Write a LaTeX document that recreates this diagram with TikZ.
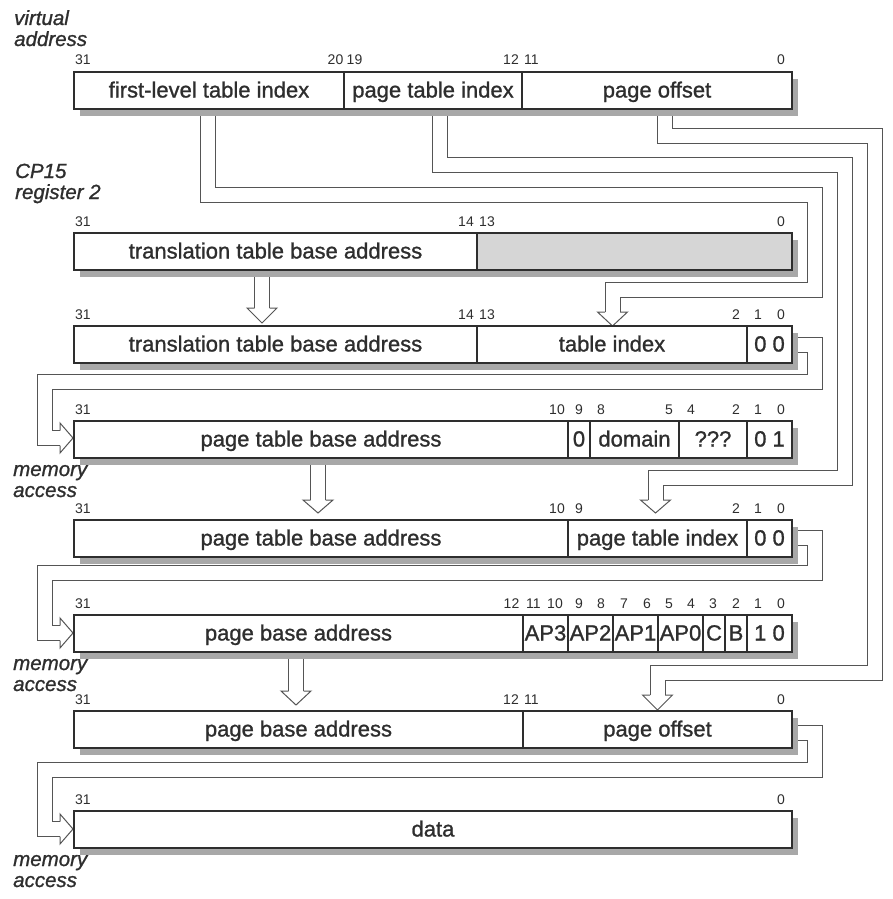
\documentclass[tikz,border=0pt]{standalone}
\usepackage{fontspec}
\setmainfont{Liberation Sans}
\newfontfamily\medfont{Liberation Sans}[FakeBold=1.1]
\usetikzlibrary{calc}
\definecolor{ink}{HTML}{2E2E2E}
\definecolor{wire}{HTML}{555555}
\definecolor{shadowc}{HTML}{A8A8A8}
\definecolor{grayfld}{HTML}{D6D6D6}
\tikzset{
  fld/.style={draw=ink, line width=1.4pt, fill=white, inner sep=0pt, minimum height=37pt,
    text height=16pt, text depth=2pt, font=\medfont\fontsize{22}{26}\selectfont, text=ink},
  bit/.style={font=\fontsize{14}{16}\selectfont, text=ink, anchor=base, inner sep=0pt},
  side/.style={font=\medfont\fontsize{20.5}{21}\selectfont\itshape, text=ink, anchor=base west,
    inner sep=0pt},
  strip/.style={draw=wire, line width=1pt, double=white, double distance=14pt, line join=miter},
  head/.style={draw=wire, line width=1pt, fill=white, line join=miter},
}
\newcommand\fieldbox[6][]{\node[fld,#1,minimum width={#4-#3}] (#2) at ({(#3+#4)/2},{#5+18.5}) {#6};}
\newcommand\bitrow[2]{\foreach \bx/\bs in {#2}{\node[bit] (b#1-\bs) at (\bx,#1) {\bs};}}
\newcommand\headdown[3]{\draw[head] ({#1-7.5},#2) -- ({#1-15},#2) -- (#1,#3) -- ({#1+15},#2) -- ({#1+7.5},#2);}
\newcommand\headright[3]{\draw[head] (#1,{#2-7.5}) -- (#1,{#2-15}) -- (#3,#2) -- (#1,{#2+15}) -- (#1,{#2+7.5});}
\newcommand\twolines[2]{\vbox{\baselineskip=21pt\lineskiplimit=-100pt\hbox{#1}\hbox{#2}}}
\begin{document}
\begin{tikzpicture}[x=1pt,y=-1pt]
\useasboundingbox (0,0) rectangle (893,899);

% ---------- wide connectors (drawn first, covered by shadows/boxes) ----------
\coordinate (s1) at (207.5,100);
\coordinate (s2) at (439.5,100);
\coordinate (s3) at (664.5,100);
\draw[strip] (s1) -- (207.5,194.5) -- (814.5,194.5) -- (814.5,289.5) -- (612.5,289.5) -- (612.5,312);
\draw[strip] (s2) -- (439.5,164.5) -- (844.5,164.5) -- (844.5,477.5) -- (655.5,477.5) -- (655.5,500);
\draw[strip] (s3) -- (664.5,135.5) -- (874.5,135.5) -- (874.5,672.5) -- (657.5,672.5) -- (657.5,695);
\coordinate (m1) at (785,344.5);
\coordinate (m2) at (785,537.5);
\coordinate (m3) at (785,732.5);
\draw[strip] (m1) -- (814.5,344.5) -- (814.5,381.5) -- (44.5,381.5) -- (44.5,438) -- (60,438);
\draw[strip] (m2) -- (814.5,537.5) -- (814.5,573) -- (44.5,573) -- (44.5,633) -- (60,633);
\draw[strip] (m3) -- (814.5,732.5) -- (814.5,769.5) -- (44.5,769.5) -- (44.5,829) -- (60,829);
\coordinate (c1) at (262,262);
\coordinate (c2) at (318,450);
\coordinate (c3) at (296,640);
\draw[strip] (c1) -- (262,308);
\draw[strip] (c2) -- (318,500);
\draw[strip] (c3) -- (296,691);

% ---------- shadows ----------
\foreach \t in {72,233,326,421,520,615,711,811}
  \fill[shadowc] (80,\t+7) rectangle (798,\t+44);

% ---------- heads ----------
\headdown{612.5}{312}{326}
\headdown{655.5}{500}{513}
\headdown{657.5}{695}{710}
\headdown{262}{308}{323}
\headdown{318}{500}{513}
\headdown{296}{691}{705}
\headright{60}{438}{73}
\headright{60}{633}{73}
\headright{60}{829}{73}

% ---------- fields ----------
\fieldbox{r1a}{74}{344}{72}{first-level table index}
\fieldbox{r1b}{344}{522}{72}{page table index}
\fieldbox{r1c}{522}{792}{72}{page offset}

\fieldbox{r2a}{74}{477}{233}{translation table base address}
\fieldbox[fill=grayfld]{r2b}{477}{792}{233}{}

\fieldbox{r3a}{74}{477}{326}{translation table base address}
\fieldbox{r3b}{477}{747}{326}{table index}
\fieldbox{r3c}{747}{792}{326}{0 0}

\fieldbox{r4a}{74}{568}{421}{page table base address}
\fieldbox{r4b}{568}{590}{421}{0}
\fieldbox{r4c}{590}{679}{421}{domain}
\fieldbox{r4d}{679}{747}{421}{???}
\fieldbox{r4e}{747}{792}{421}{0 1}

\fieldbox{r5a}{74}{568}{520}{page table base address}
\fieldbox{r5b}{568}{747}{520}{page table index}
\fieldbox{r5c}{747}{792}{520}{0 0}

\fieldbox{r6a}{74}{523}{615}{page base address}
\fieldbox{r6b}{523}{568}{615}{AP3}
\fieldbox{r6c}{568}{613}{615}{AP2}
\fieldbox{r6d}{613}{658}{615}{AP1}
\fieldbox{r6e}{658}{703}{615}{AP0}
\fieldbox{r6f}{703}{725}{615}{C}
\fieldbox{r6g}{725}{747}{615}{B}
\fieldbox{r6h}{747}{792}{615}{1 0}

\fieldbox{r7a}{74}{523}{711}{page base address}
\fieldbox{r7b}{523}{792}{711}{page offset}

\fieldbox{r8a}{74}{792}{811}{data}

% ---------- bit numbers ----------
\bitrow{65}{83/31,335.5/20,354.5/19,511/12,531.5/11,781/0}
\bitrow{226}{83/31,466/14,487/13,781/0}
\bitrow{319}{83/31,466/14,487/13,736/2,758/1,781/0}
\bitrow{414}{83/31,557/10,579/9,601/8,669/5,691/4,736/2,758/1,781/0}
\bitrow{513}{83/31,557/10,579/9,736/2,758/1,781/0}
\bitrow{608}{83/31,511.5/12,533.5/11,555/10,579/9,601/8,624/7,647/6,669/5,691/4,713/3,736/2,758/1,781/0}
\bitrow{704}{83/31,511/12,531.5/11,781/0}
\bitrow{804}{83/31,781/0}

% ---------- side labels (anchored at the baseline of the second line) ----------
\node[side] (va) at (14,46) {\twolines{virtual}{address}};
\node[side] (cp) at (15,199) {\twolines{CP15}{register 2}};
\node[side] (ma) at (13,497) {\twolines{memory}{access}};
\node[side] (mb) at (13,691) {\twolines{memory}{access}};
\node[side] (mc) at (13,887) {\twolines{memory}{access}};
\end{tikzpicture}
\end{document}
